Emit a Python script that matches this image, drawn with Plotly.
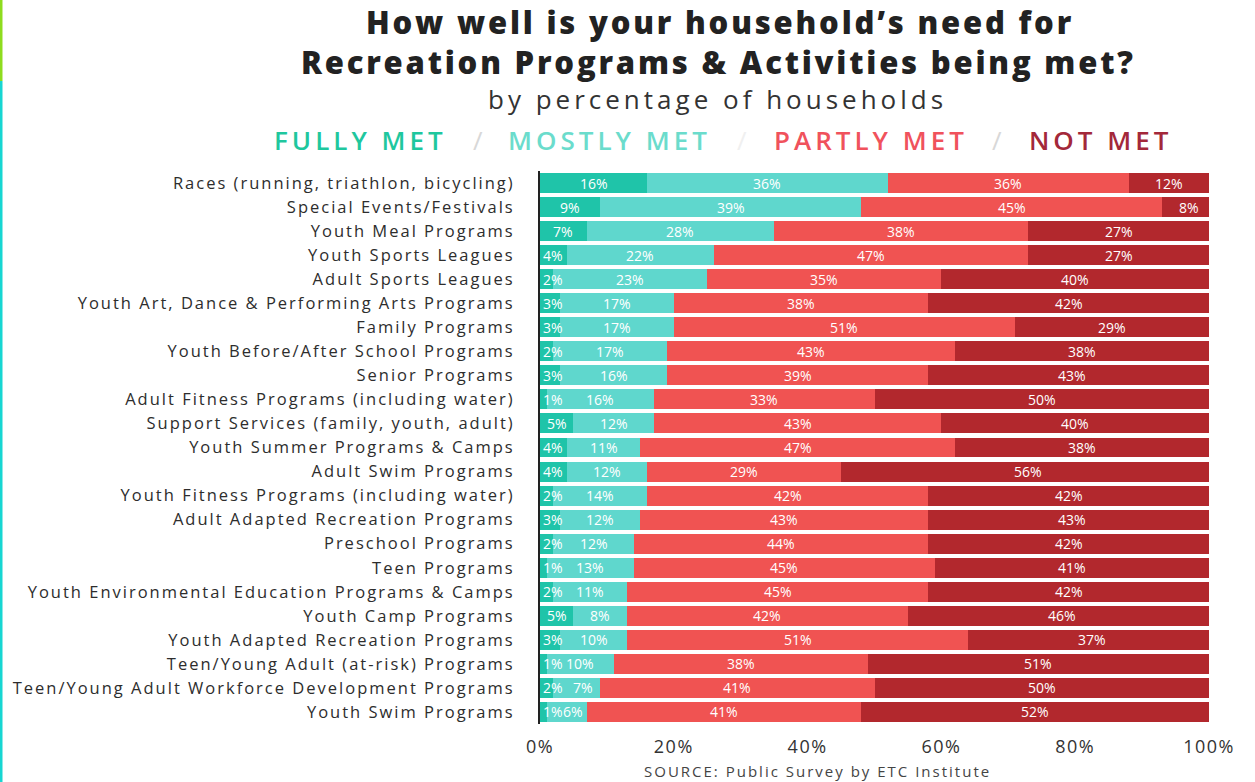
import plotly.graph_objects as go

# Survey categories, top to bottom
categories = [
    "Races (running, triathlon, bicycling)",
    "Special Events/Festivals",
    "Youth Meal Programs",
    "Youth Sports Leagues",
    "Adult Sports Leagues",
    "Youth Art, Dance & Performing Arts Programs",
    "Family Programs",
    "Youth Before/After School Programs",
    "Senior Programs",
    "Adult Fitness Programs (including water)",
    "Support Services (family, youth, adult)",
    "Youth Summer Programs & Camps",
    "Adult Swim Programs",
    "Youth Fitness Programs (including water)",
    "Adult Adapted Recreation Programs",
    "Preschool Programs",
    "Teen Programs",
    "Youth Environmental Education Programs & Camps",
    "Youth Camp Programs",
    "Youth Adapted Recreation Programs",
    "Teen/Young Adult (at-risk) Programs",
    "Teen/Young Adult Workforce Development Programs",
    "Youth Swim Programs",
]

fully_met = [16, 9, 7, 4, 2, 3, 3, 2, 3, 1, 5, 4, 4, 2, 3, 2, 1, 2, 5, 3, 1, 2, 1]
mostly_met = [36, 39, 28, 22, 23, 17, 17, 17, 16, 16, 12, 11, 12, 14, 12, 12, 13, 11, 8, 10, 10, 7, 6]
partly_met = [36, 45, 38, 47, 35, 38, 51, 43, 39, 33, 43, 47, 29, 42, 43, 44, 45, 45, 42, 51, 38, 41, 41]
not_met = [12, 8, 27, 27, 40, 42, 29, 38, 43, 50, 40, 38, 56, 42, 43, 42, 41, 42, 46, 37, 51, 50, 52]

x_ticks = [0, 20, 40, 60, 80, 100]
x_tick_labels = ["0%", "20%", "40%", "60%", "80%", "100%"]

series = [
    ("Fully Met", fully_met, "#1fc4a9"),
    ("Mostly Met", mostly_met, "#5fd7cd"),
    ("Partly Met", partly_met, "#f05352"),
    ("Not Met", not_met, "#b2282d"),
]

W, H = 1255, 782
ML, MR, MT, MB = 540, 46, 171, 58
PW, PH = W - ML - MR, H - MT - MB


def px_x(px):
    return (px - ML) / PW


def px_y(py):
    return (H - MB - py) / PH


def spaced(text, px):
    return f'<span style="letter-spacing:{px}px">{text}</span>'


FONT = "Open Sans"
BAR_TEXT = dict(color="white", size=14, family=FONT)

fig = go.Figure()

# Stacked segments
for name, vals, color in series:
    fig.add_trace(go.Bar(
        y=categories,
        x=vals,
        name=name,
        orientation="h",
        marker=dict(color=color, line=dict(width=0)),
        hoverinfo="skip",
    ))

# Percentage labels centred on each segment; labels of very thin first
# segments start at the bar's left edge, nudging the neighbour label right.
annotations = []
offset = [0] * len(categories)
for k, (name, vals, color) in enumerate(series):
    for i, v in enumerate(vals):
        lab = dict(xref="x", yref="y", y=categories[i], text=f"{v}%", showarrow=False,
                   font=BAR_TEXT, yanchor="middle")
        if k == 0 and v < 4:
            lab.update(x=0, xanchor="left", xshift=1)
        else:
            shift = 6 if (k == 1 and fully_met[i] < 4 and v < 10) else 0
            lab.update(x=offset[i] + v / 2, xanchor="center", xshift=shift)
        annotations.append(lab)
    offset = [o + v for o, v in zip(offset, vals)]

fig.update_layout(
    width=W,
    height=H,
    barmode="stack",
    bargap=0.17,
    showlegend=False,
    plot_bgcolor="white",
    paper_bgcolor="white",
    margin=dict(l=ML, r=MR, t=MT, b=MB, pad=0, autoexpand=False),
    font=dict(family=FONT, color="#333333"),
    xaxis=dict(
        range=[0, 100],
        tickvals=x_ticks,
        ticktext=[spaced(t, 1.5) for t in x_tick_labels],
        showgrid=False,
        zeroline=False,
        showline=False,
        ticks="outside",
        ticklen=6,
        tickcolor="rgba(0,0,0,0)",
        tickfont=dict(size=18, color="#333333", family=FONT),
    ),
    yaxis=dict(
        categoryorder="array",
        categoryarray=categories[::-1],
        range=[-0.5, len(categories) - 0.5],
        tickvals=categories,
        ticktext=[spaced(c, 2.0) for c in categories],
        showgrid=False,
        zeroline=False,
        showline=True,
        linecolor="#222222",
        linewidth=2,
        ticks="outside",
        ticklen=20,
        tickcolor="rgba(0,0,0,0)",
        tickfont=dict(size=16.5, color="#2d2d2d", family=FONT),
    ),
)

header = [
    dict(text=spaced("How well is your household’s need for", 2.8), x=px_x(720), y=px_y(22),
         font=dict(size=31, color="#222222", family=FONT, weight=800)),
    dict(text=spaced("Recreation Programs & Activities being met?", 2.8), x=px_x(718), y=px_y(62),
         font=dict(size=31, color="#222222", family=FONT, weight=800)),
    dict(text=spaced("by percentage of households", 4), x=px_x(717), y=px_y(99),
         font=dict(size=26, color="#333333", family=FONT)),
    dict(text=spaced("FULLY MET", 4), x=px_x(360), y=px_y(140),
         font=dict(size=26, color="#1fc79e", family=FONT, weight=600)),
    dict(text="/", x=px_x(478), y=px_y(140),
         font=dict(size=26, color="#d8d8d8", family=FONT)),
    dict(text=spaced("MOSTLY MET", 4), x=px_x(609), y=px_y(140),
         font=dict(size=26, color="#6bdccc", family=FONT, weight=600)),
    dict(text="/", x=px_x(742), y=px_y(140),
         font=dict(size=26, color="#f0f0f0", family=FONT)),
    dict(text=spaced("PARTLY MET", 4), x=px_x(871), y=px_y(140),
         font=dict(size=26, color="#f0525c", family=FONT, weight=600)),
    dict(text="/", x=px_x(997), y=px_y(140),
         font=dict(size=26, color="#d8d8d8", family=FONT)),
    dict(text=spaced("NOT MET", 4), x=px_x(1100), y=px_y(140),
         font=dict(size=26, color="#a3283a", family=FONT, weight=600)),
    dict(text=spaced("SOURCE: Public Survey by ETC Institute", 2), x=px_x(817), y=px_y(771),
         font=dict(size=15, color="#444444", family=FONT)),
]
for a in header:
    a.update(xref="paper", yref="paper", showarrow=False, xanchor="center", yanchor="middle")
fig.update_layout(annotations=annotations + header)

# Thin coloured page edge on the left side
fig.add_shape(type="rect", xref="paper", yref="paper", x0=px_x(0), x1=px_x(2.5),
              y0=px_y(0), y1=px_y(81), fillcolor="#8edc1e", line=dict(width=0), layer="above")
fig.add_shape(type="rect", xref="paper", yref="paper", x0=px_x(0), x1=px_x(2.5),
              y0=px_y(81), y1=px_y(782), fillcolor="#17d6d2", line=dict(width=0), layer="above")

fig.write_html("out.html")
